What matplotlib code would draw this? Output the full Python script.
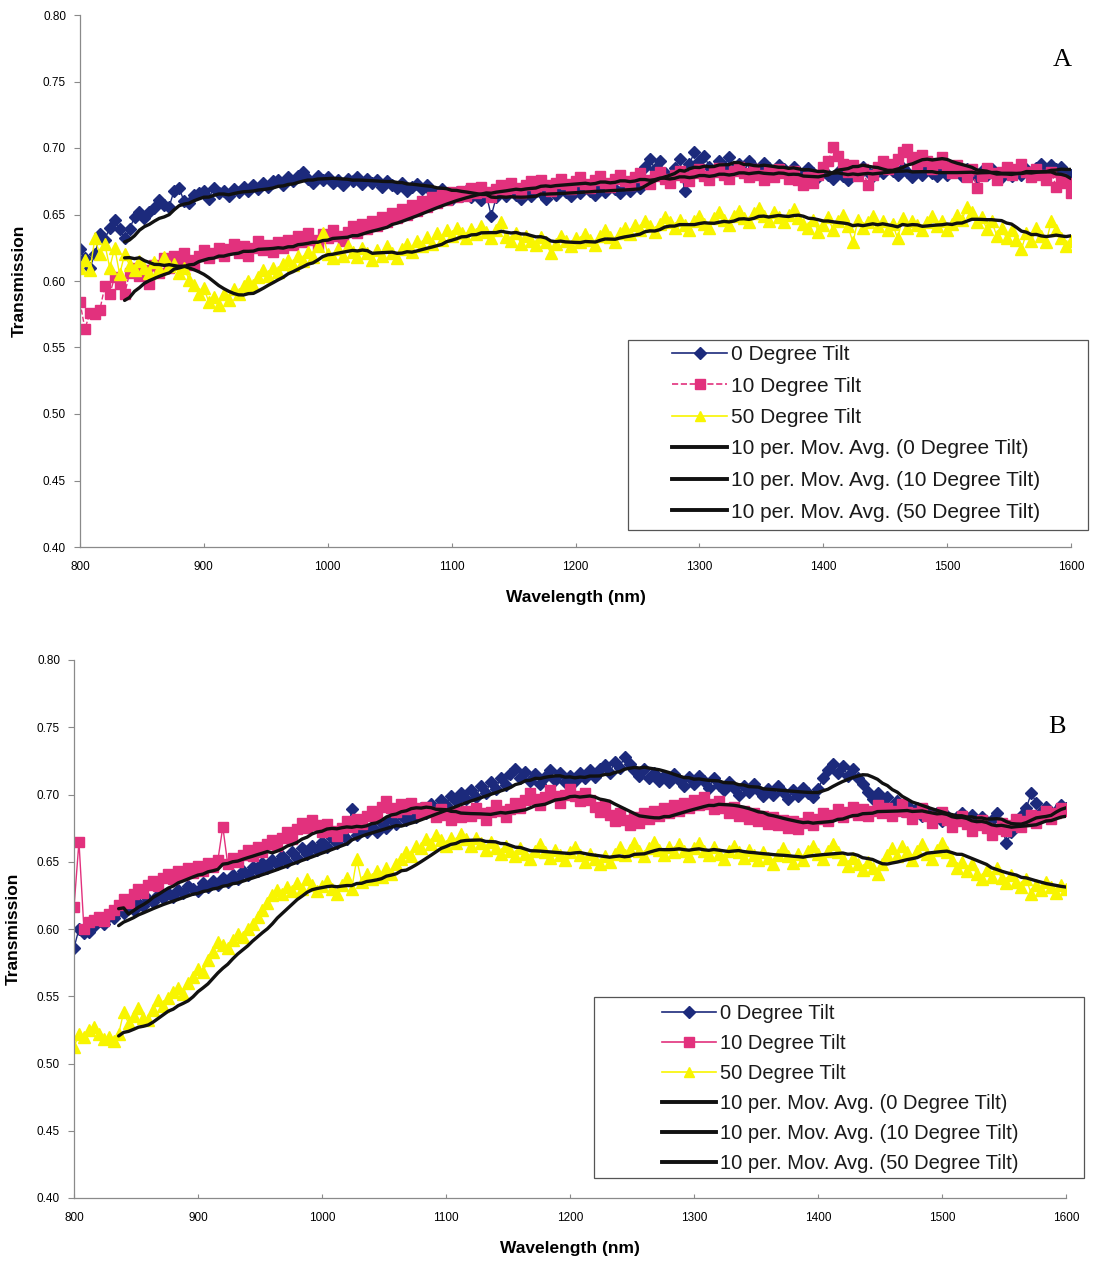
import numpy as np
import pandas as pd
import matplotlib
matplotlib.use("Agg")
import matplotlib.pyplot as plt
from matplotlib.lines import Line2D
from matplotlib.patches import Rectangle

# Wavelength grid (nm), one reading every 4 nm
wavelength = np.arange(800, 1601, 4)

# ---------------- Panel A ----------------
a_tilt0 = [
    0.624, 0.617, 0.610, 0.620, 0.635, 0.631, 0.640, 0.646, 0.639, 0.632,
    0.639, 0.648, 0.652, 0.647, 0.652, 0.655, 0.661, 0.657, 0.656, 0.668,
    0.670, 0.660, 0.659, 0.665, 0.666, 0.668, 0.662, 0.670, 0.666, 0.668,
    0.664, 0.669, 0.667, 0.671, 0.668, 0.672, 0.669, 0.674, 0.671, 0.675,
    0.676, 0.672, 0.678, 0.675, 0.679, 0.682, 0.677, 0.674, 0.679, 0.676,
    0.678, 0.674, 0.676, 0.672, 0.677, 0.675, 0.678, 0.673, 0.677, 0.674,
    0.676, 0.671, 0.675, 0.672, 0.670, 0.674, 0.668, 0.671, 0.673, 0.669,
    0.672, 0.667, 0.665, 0.669, 0.666, 0.662, 0.667, 0.664, 0.668, 0.663,
    0.666, 0.661, 0.665, 0.649, 0.663, 0.667, 0.664, 0.668, 0.665, 0.662,
    0.667, 0.664, 0.668, 0.666, 0.662, 0.669, 0.665, 0.670, 0.667, 0.664,
    0.669, 0.666, 0.671, 0.668, 0.665, 0.670, 0.667, 0.672, 0.669, 0.666,
    0.671, 0.668, 0.674, 0.670, 0.686, 0.692, 0.684, 0.690, 0.681, 0.678,
    0.685, 0.692, 0.668, 0.688, 0.697, 0.690, 0.694, 0.686, 0.683, 0.690,
    0.686, 0.693, 0.684, 0.688, 0.682, 0.690, 0.686, 0.683, 0.689, 0.685,
    0.681, 0.687, 0.684, 0.680, 0.686, 0.682, 0.679, 0.685, 0.681, 0.678,
    0.683, 0.680, 0.677, 0.682, 0.679, 0.676, 0.684, 0.680, 0.686, 0.682,
    0.679, 0.684, 0.681, 0.686, 0.683, 0.680, 0.685, 0.682, 0.678, 0.683,
    0.680, 0.684, 0.681, 0.679, 0.683, 0.680, 0.685, 0.682, 0.679, 0.684,
    0.681, 0.678, 0.683, 0.680, 0.684, 0.681, 0.678, 0.682, 0.679, 0.683,
    0.680, 0.684, 0.681, 0.685, 0.688, 0.683, 0.687, 0.684, 0.686, 0.681,
    0.680,
]
a_tilt10 = [
    0.584, 0.564, 0.576, 0.575, 0.578, 0.596, 0.590, 0.603, 0.598, 0.590,
    0.606, 0.610, 0.604, 0.608, 0.598, 0.612, 0.606, 0.617, 0.610, 0.619,
    0.614, 0.621, 0.616, 0.612, 0.619, 0.623, 0.617, 0.621, 0.625, 0.619,
    0.624, 0.628, 0.621, 0.626, 0.619, 0.625, 0.630, 0.623, 0.627, 0.622,
    0.629, 0.625, 0.631, 0.627, 0.634, 0.629, 0.636, 0.631, 0.627, 0.635,
    0.632, 0.638, 0.634, 0.630, 0.637, 0.641, 0.636, 0.643, 0.639, 0.645,
    0.641, 0.648, 0.644, 0.651, 0.647, 0.654, 0.650, 0.657, 0.653, 0.660,
    0.656, 0.663, 0.659, 0.665, 0.661, 0.667, 0.663, 0.668, 0.664, 0.670,
    0.666, 0.671, 0.667, 0.663, 0.669, 0.672, 0.668, 0.674, 0.670, 0.666,
    0.672, 0.675, 0.670, 0.676, 0.672, 0.668, 0.674, 0.677, 0.673, 0.669,
    0.675, 0.678, 0.673, 0.670, 0.676, 0.679, 0.674, 0.671, 0.677, 0.680,
    0.675, 0.672, 0.678, 0.681, 0.676, 0.673, 0.679, 0.682, 0.677, 0.674,
    0.680, 0.683, 0.678, 0.675, 0.681, 0.684, 0.679, 0.676, 0.682, 0.685,
    0.680, 0.677, 0.683, 0.686, 0.681, 0.678, 0.684, 0.680, 0.676, 0.682,
    0.678, 0.684, 0.681, 0.677, 0.683, 0.676, 0.672, 0.678, 0.674, 0.680,
    0.686, 0.690, 0.701, 0.694, 0.688, 0.682, 0.687, 0.679, 0.684, 0.672,
    0.680, 0.686, 0.690, 0.684, 0.688, 0.692, 0.697, 0.699, 0.693, 0.688,
    0.695, 0.690, 0.684, 0.689, 0.693, 0.686, 0.681, 0.687, 0.683, 0.678,
    0.684, 0.670, 0.679, 0.685, 0.681, 0.676, 0.682, 0.686, 0.680, 0.684,
    0.688, 0.682, 0.678, 0.684, 0.680, 0.676, 0.682, 0.671, 0.677, 0.674,
    0.666,
]
a_tilt50 = [
    0.610, 0.616, 0.608, 0.632, 0.620, 0.628, 0.610, 0.625, 0.605, 0.620,
    0.612, 0.608, 0.615, 0.610, 0.606, 0.614, 0.609, 0.618, 0.611, 0.613,
    0.606, 0.610, 0.601, 0.597, 0.590, 0.595, 0.584, 0.588, 0.582, 0.590,
    0.586, 0.594, 0.590, 0.596, 0.600, 0.597, 0.603, 0.608, 0.604, 0.610,
    0.607, 0.613, 0.616, 0.612, 0.619, 0.615, 0.622, 0.618, 0.626, 0.636,
    0.620, 0.617, 0.624, 0.619, 0.626, 0.622, 0.618, 0.625, 0.621, 0.616,
    0.623, 0.619, 0.626, 0.621, 0.617, 0.624, 0.628, 0.622, 0.630, 0.626,
    0.633, 0.628, 0.636, 0.631, 0.638, 0.634, 0.640, 0.636, 0.632, 0.639,
    0.635, 0.641, 0.637, 0.632, 0.638, 0.644, 0.633, 0.630, 0.636, 0.628,
    0.634, 0.630, 0.627, 0.633, 0.629, 0.621, 0.628, 0.634, 0.630, 0.626,
    0.632, 0.629, 0.635, 0.631, 0.627, 0.634, 0.638, 0.633, 0.629, 0.636,
    0.640, 0.635, 0.642, 0.638, 0.645, 0.641, 0.637, 0.643, 0.648, 0.644,
    0.640, 0.646, 0.642, 0.638, 0.645, 0.649, 0.643, 0.640, 0.647, 0.652,
    0.646, 0.642, 0.649, 0.653, 0.647, 0.644, 0.651, 0.655, 0.649, 0.645,
    0.652, 0.648, 0.644, 0.650, 0.654, 0.647, 0.643, 0.640, 0.646, 0.637,
    0.642, 0.648, 0.638, 0.645, 0.650, 0.641, 0.629, 0.646, 0.640, 0.644,
    0.649, 0.641, 0.645, 0.638, 0.643, 0.632, 0.647, 0.640, 0.645, 0.642,
    0.638, 0.644, 0.649, 0.641, 0.645, 0.638, 0.643, 0.650, 0.646, 0.656,
    0.652, 0.644, 0.648, 0.639, 0.645, 0.634, 0.640, 0.632, 0.638, 0.631,
    0.624, 0.636, 0.630, 0.640, 0.634, 0.629, 0.645, 0.638, 0.632, 0.626,
    0.630,
]

# ---------------- Panel B ----------------
b_tilt0 = [
    0.586, 0.600, 0.597, 0.598, 0.602, 0.606, 0.604, 0.610, 0.608, 0.614,
    0.612, 0.616, 0.614, 0.619, 0.617, 0.622, 0.620, 0.625, 0.623, 0.627,
    0.624, 0.629, 0.627, 0.632, 0.630, 0.628, 0.634, 0.631, 0.636, 0.633,
    0.638, 0.635, 0.640, 0.637, 0.643, 0.640, 0.646, 0.643, 0.649, 0.645,
    0.651, 0.648, 0.654, 0.650, 0.657, 0.653, 0.660, 0.656, 0.662, 0.659,
    0.665, 0.661, 0.668, 0.664, 0.671, 0.667, 0.689, 0.670, 0.676, 0.672,
    0.676, 0.672, 0.679, 0.675, 0.682, 0.678, 0.685, 0.681, 0.687, 0.683,
    0.690, 0.686, 0.693, 0.689, 0.696, 0.692, 0.699, 0.695, 0.701, 0.697,
    0.703, 0.698, 0.706, 0.701, 0.709, 0.704, 0.712, 0.707, 0.715, 0.719,
    0.712, 0.717, 0.710, 0.715, 0.708, 0.713, 0.718, 0.711, 0.716, 0.709,
    0.714, 0.710, 0.716, 0.712, 0.718, 0.713, 0.719, 0.722, 0.716, 0.724,
    0.720, 0.728, 0.723, 0.718, 0.714, 0.719, 0.712, 0.716, 0.710, 0.714,
    0.709, 0.715, 0.711, 0.706, 0.713, 0.708, 0.714, 0.710, 0.705, 0.712,
    0.707, 0.703, 0.709, 0.705, 0.700, 0.706, 0.702, 0.708, 0.703, 0.699,
    0.704, 0.700, 0.706, 0.702, 0.697, 0.703, 0.699, 0.705, 0.701, 0.698,
    0.704, 0.712, 0.718, 0.723, 0.716, 0.721, 0.714, 0.719, 0.712, 0.708,
    0.702, 0.697, 0.701, 0.694, 0.698, 0.691, 0.695, 0.688, 0.692, 0.686,
    0.690, 0.684, 0.688, 0.682, 0.686, 0.680, 0.684, 0.679, 0.683, 0.686,
    0.681, 0.685, 0.679, 0.683, 0.677, 0.681, 0.686, 0.676, 0.664, 0.672,
    0.678, 0.684, 0.690, 0.701, 0.694, 0.687, 0.691, 0.684, 0.688, 0.692,
    0.690,
]
b_tilt10 = [
    0.616, 0.665, 0.600, 0.605, 0.607, 0.609, 0.606, 0.611, 0.614, 0.618,
    0.622, 0.619, 0.626, 0.630, 0.627, 0.633, 0.636, 0.632, 0.638, 0.641,
    0.637, 0.643, 0.640, 0.645, 0.642, 0.647, 0.643, 0.649, 0.646, 0.651,
    0.676, 0.648, 0.653, 0.650, 0.655, 0.659, 0.654, 0.661, 0.657, 0.663,
    0.666, 0.662, 0.668, 0.672, 0.667, 0.674, 0.679, 0.675, 0.681, 0.677,
    0.672, 0.678, 0.673, 0.669, 0.675, 0.680, 0.676, 0.682, 0.678, 0.684,
    0.688, 0.684, 0.691, 0.695, 0.690, 0.687, 0.693, 0.689, 0.694, 0.690,
    0.686, 0.691, 0.687, 0.683, 0.689, 0.685, 0.681, 0.687, 0.683, 0.688,
    0.684, 0.690, 0.686, 0.681, 0.687, 0.692, 0.688, 0.683, 0.689, 0.694,
    0.690, 0.696, 0.701, 0.697, 0.692, 0.698, 0.703, 0.699, 0.694, 0.700,
    0.704, 0.699, 0.695, 0.701, 0.696, 0.691, 0.687, 0.692, 0.685, 0.680,
    0.686, 0.681, 0.677, 0.683, 0.679, 0.686, 0.682, 0.688, 0.684, 0.690,
    0.686, 0.692, 0.688, 0.694, 0.690, 0.696, 0.692, 0.698, 0.693, 0.689,
    0.695, 0.690, 0.686, 0.691, 0.684, 0.688, 0.682, 0.686, 0.680, 0.684,
    0.678, 0.683, 0.677, 0.681, 0.675, 0.680, 0.674, 0.679, 0.683, 0.677,
    0.682, 0.686, 0.680, 0.685, 0.689, 0.683, 0.687, 0.691, 0.685, 0.689,
    0.684, 0.688, 0.692, 0.686, 0.690, 0.684, 0.688, 0.693, 0.687, 0.682,
    0.686, 0.690, 0.684, 0.679, 0.683, 0.687, 0.681, 0.676, 0.680, 0.684,
    0.678, 0.673, 0.677, 0.681, 0.675, 0.670, 0.674, 0.679, 0.673, 0.677,
    0.682, 0.676, 0.680, 0.685, 0.679, 0.684, 0.688, 0.682, 0.686, 0.690,
    0.688,
]
b_tilt50 = [
    0.512, 0.522, 0.520, 0.525, 0.527, 0.522, 0.518, 0.520, 0.517, 0.522,
    0.538, 0.530, 0.535, 0.541, 0.534, 0.532, 0.540, 0.547, 0.543, 0.549,
    0.553, 0.556, 0.552, 0.560, 0.564, 0.570, 0.568, 0.577, 0.583, 0.590,
    0.588, 0.586, 0.592, 0.596, 0.594, 0.600, 0.604, 0.609, 0.614, 0.619,
    0.625, 0.629, 0.626, 0.631, 0.628, 0.634, 0.630, 0.637, 0.633, 0.628,
    0.632, 0.636, 0.630, 0.626, 0.633, 0.638, 0.630, 0.652, 0.635, 0.641,
    0.637, 0.643, 0.639, 0.645, 0.641, 0.648, 0.652, 0.657, 0.654, 0.662,
    0.660, 0.667, 0.663, 0.670, 0.666, 0.662, 0.668, 0.664, 0.671, 0.667,
    0.662, 0.668, 0.664, 0.659, 0.665, 0.660, 0.656, 0.662, 0.658, 0.654,
    0.660, 0.656, 0.652, 0.658, 0.663, 0.657, 0.653, 0.659, 0.655, 0.651,
    0.657, 0.661, 0.655, 0.650, 0.656, 0.652, 0.648, 0.654, 0.650, 0.656,
    0.661, 0.655, 0.659, 0.664, 0.658, 0.654, 0.660, 0.665, 0.659, 0.655,
    0.661, 0.657, 0.663, 0.658, 0.654, 0.660, 0.664, 0.658, 0.655, 0.661,
    0.656, 0.652, 0.658, 0.662, 0.657, 0.653, 0.659, 0.655, 0.651, 0.657,
    0.653, 0.648, 0.655, 0.660, 0.654, 0.649, 0.656, 0.651, 0.658, 0.662,
    0.656, 0.652, 0.658, 0.663, 0.657, 0.652, 0.647, 0.653, 0.648, 0.644,
    0.650, 0.645, 0.641, 0.648, 0.655, 0.660, 0.654, 0.662, 0.657, 0.651,
    0.658, 0.663, 0.656, 0.652, 0.659, 0.664, 0.657, 0.651, 0.645, 0.650,
    0.643, 0.648, 0.641, 0.637, 0.644, 0.639, 0.645, 0.638, 0.634, 0.640,
    0.635, 0.631, 0.637, 0.626, 0.633, 0.629, 0.635, 0.631, 0.627, 0.633,
    0.630,
]

series_names = ["0 Degree Tilt", "10 Degree Tilt", "50 Degree Tilt"]
x_ticks = [800, 900, 1000, 1100, 1200, 1300, 1400, 1500, 1600]
y_ticks = [0.40, 0.45, 0.50, 0.55, 0.60, 0.65, 0.70, 0.75, 0.80]
window = 10

BLUE = "#1c2a7c"
PINK = "#e2317d"
YELLOW = "#f8f500"
SANS = "Liberation Sans"
SERIF = "Liberation Serif"

fig = plt.figure(figsize=(10.95, 12.62), dpi=100)
W, H = 1095, 1262


def axes_px(left, top, right, bottom):
    return fig.add_axes([left / W, 1 - bottom / H, (right - left) / W, (bottom - top) / H])


def frame_px(left, top, right, bottom):
    fig.add_artist(Rectangle((left / W, 1 - bottom / H), (right - left) / W,
                             (bottom - top) / H, transform=fig.transFigure,
                             fill=False, edgecolor="#555555", linewidth=0.9,
                             zorder=5))


def draw_panel(ax, data, letter, pink_style, letter_pos, leg_cfg):
    styles = [
        dict(color=BLUE, marker="D", ms=6.3, ls="-"),
        dict(color=PINK, marker="s", ms=7.0, ls=pink_style),
        dict(color=YELLOW, marker="^", ms=8.0, ls="-"),
    ]
    handles = []
    for vals, st, name in zip(data, styles, series_names):
        ax.plot(wavelength, vals, color=st["color"], lw=1.0, ls=st["ls"],
                marker=st["marker"], ms=st["ms"], mec=st["color"], mfc=st["color"],
                zorder=2)
        handles.append(Line2D([], [], color=st["color"], lw=1.2, ls=st["ls"],
                              marker=st["marker"], ms=st["ms"] * 0.95,
                              mec=st["color"], mfc=st["color"], label=name))
    for vals, name in zip(data, series_names):
        ma = pd.Series(vals).rolling(window).mean()
        ax.plot(wavelength, ma, color="#111111", lw=2.4, zorder=3,
                solid_capstyle="round")
        handles.append(Line2D([], [], color="#111111", lw=2.8,
                              label=f"10 per. Mov. Avg. ({name})"))

    ax.set_xlim(800, 1600)
    ax.set_ylim(0.40, 0.80)
    ax.set_xticks(x_ticks)
    ax.set_yticks(y_ticks)
    ax.set_xticklabels([str(v) for v in x_ticks], fontsize=8.5, family=SANS)
    ax.set_yticklabels([f"{v:.2f}" for v in y_ticks], fontsize=8.5, family=SANS)
    for side in ("top", "right"):
        ax.spines[side].set_visible(False)
    for side in ("left", "bottom"):
        ax.spines[side].set_color("#8a8a8a")
        ax.spines[side].set_linewidth(0.9)
    ax.tick_params(axis="y", direction="out", length=4, color="#8a8a8a", pad=6)
    ax.tick_params(axis="x", direction="in", length=3, color="#8a8a8a", pad=10)
    ax.set_ylabel("Transmission", fontsize=12.5, fontweight="bold", family=SANS,
                  labelpad=12)
    ax.set_xlabel("Wavelength (nm)", fontsize=12.5, fontweight="bold", family=SANS,
                  labelpad=12)
    ax.text(letter_pos[0], letter_pos[1], letter, transform=ax.transAxes,
            fontsize=19, family=SERIF, ha="center", va="center")

    # legend entries, with a separate frame drawn around them
    frame_px(*leg_cfg["frame"])
    hx, hy = leg_cfg["anchor"]
    leg = ax.legend(handles=handles, loc="upper left",
                    bbox_to_anchor=(hx / W, 1 - hy / H),
                    bbox_transform=fig.transFigure, frameon=False,
                    handlelength=leg_cfg["handlelength"], handletextpad=0.2,
                    labelspacing=leg_cfg["spacing"], borderpad=0.0,
                    borderaxespad=0.0,
                    prop={"family": SANS, "size": leg_cfg["size"]})
    for t in leg.get_texts():
        t.set_color("#1a1a1a")
    return leg


ax_a = axes_px(80, 15, 1071, 547)
draw_panel(ax_a, [a_tilt0, a_tilt10, a_tilt50], "A", "--", (0.991, 0.915),
           dict(frame=(628, 340, 1088, 530), anchor=(672, 345),
                handlelength=2.65, spacing=0.6, size=15))

ax_b = axes_px(74, 660, 1066, 1198)
draw_panel(ax_b, [b_tilt0, b_tilt10, b_tilt50], "B", "-", (0.991, 0.876),
           dict(frame=(594, 997, 1084, 1178), anchor=(662, 1004),
                handlelength=2.7, spacing=0.55, size=14.5))

fig.savefig("out.png", dpi=100, facecolor="white")
